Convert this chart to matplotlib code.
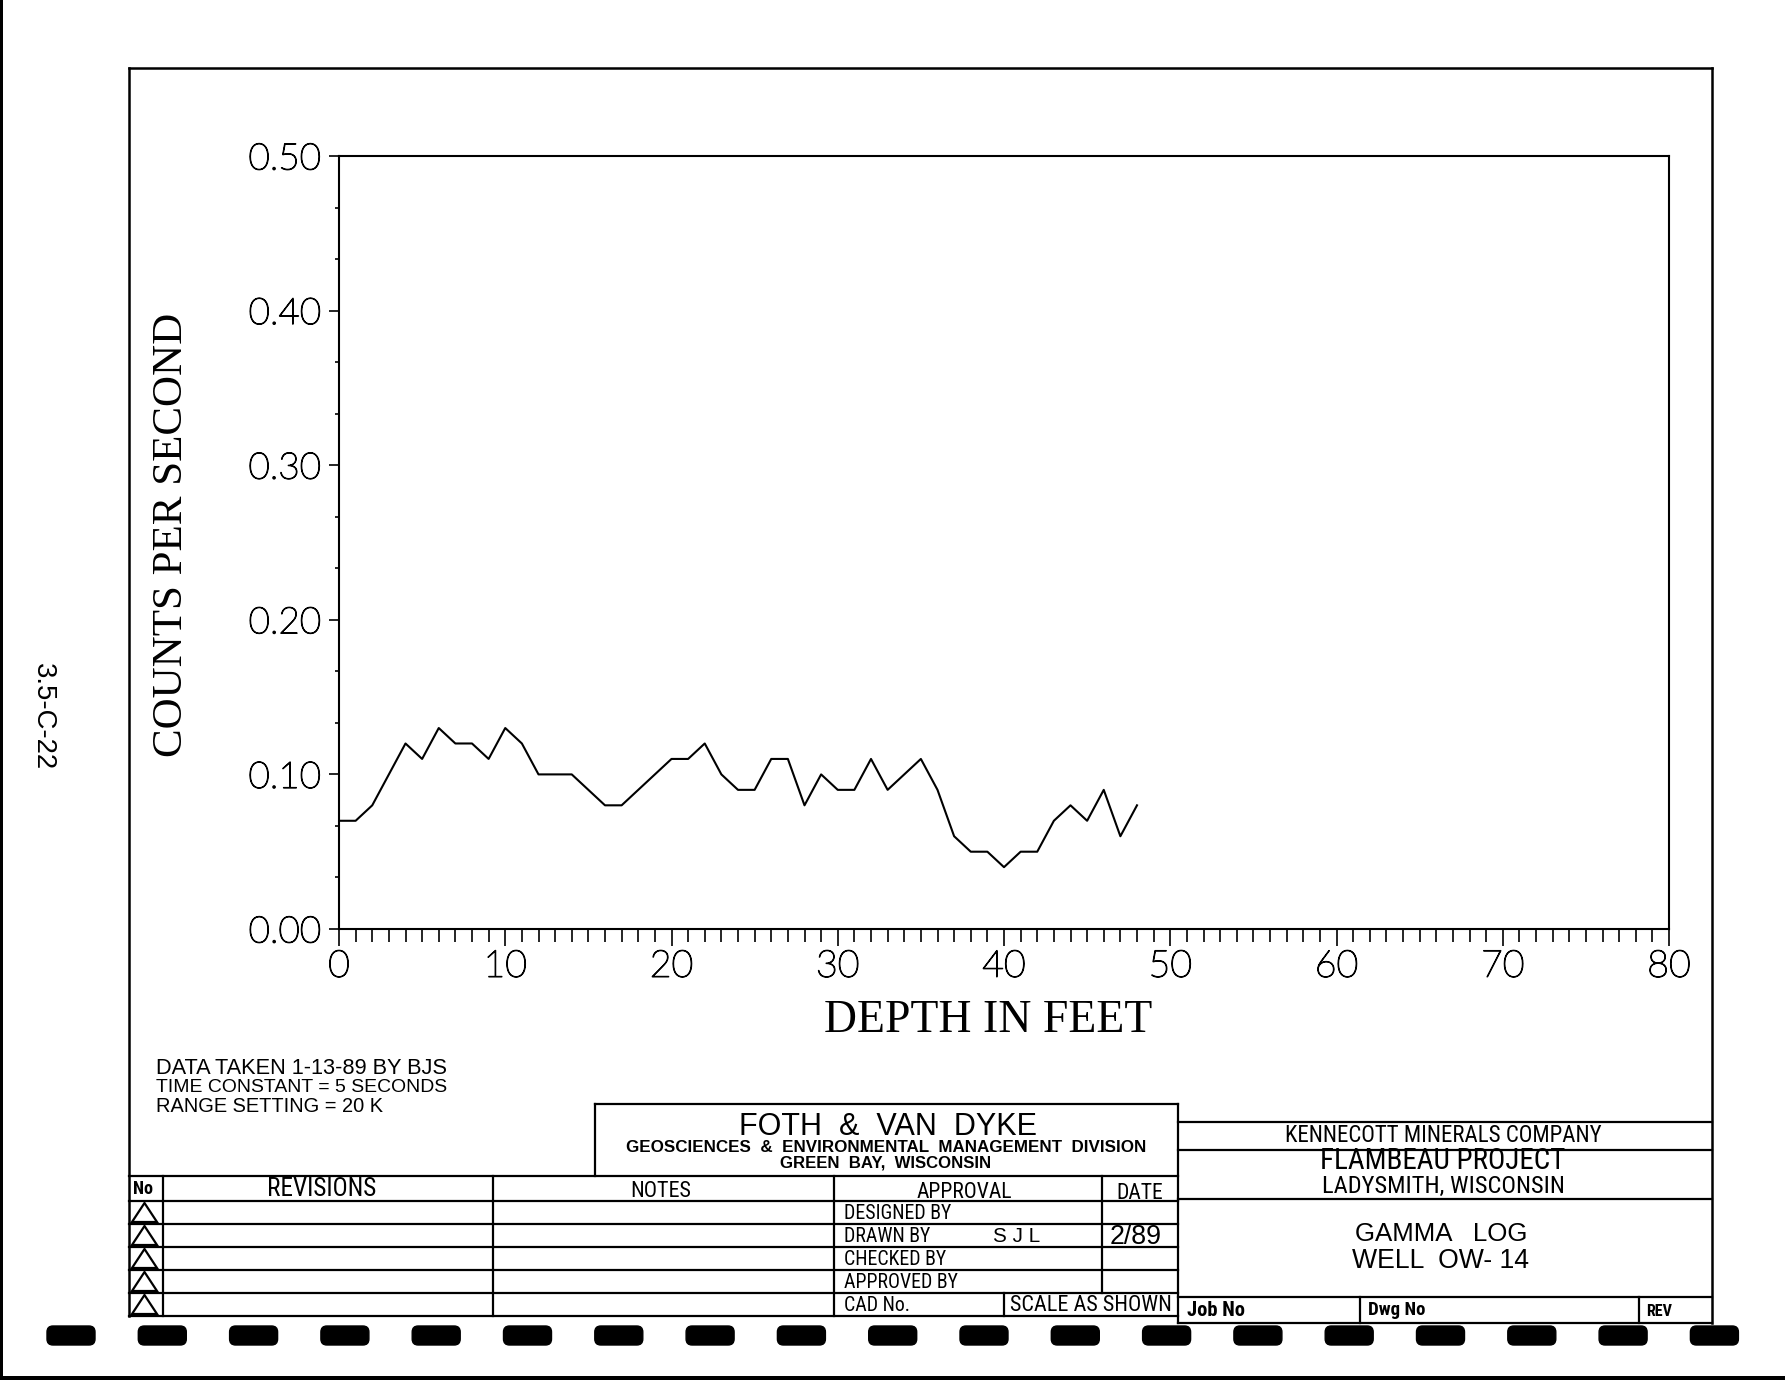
import matplotlib
matplotlib.use("Agg")
import matplotlib.pyplot as plt
import matplotlib.patheffects as pe
from matplotlib import font_manager
from matplotlib.patches import FancyBboxPatch, Polygon, Rectangle
import numpy as np

# gamma log, well OW-14
depth_ft = list(range(49))
counts_per_sec = [0.07, 0.07, 0.08, 0.10, 0.12, 0.11, 0.13, 0.12, 0.12, 0.11,
                  0.13, 0.12, 0.10, 0.10, 0.10, 0.09, 0.08, 0.08, 0.09, 0.10,
                  0.11, 0.11, 0.12, 0.10, 0.09, 0.09, 0.11, 0.11, 0.08, 0.10,
                  0.09, 0.09, 0.11, 0.09, 0.10, 0.11, 0.09, 0.06, 0.05, 0.05,
                  0.04, 0.05, 0.05, 0.07, 0.08, 0.07, 0.09, 0.06, 0.08]

x_ticks = [0, 10, 20, 30, 40, 50, 60, 70, 80]
y_ticks = [0.0, 0.1, 0.2, 0.3, 0.4, 0.5]
y_labels = ["0.00", "0.10", "0.20", "0.30", "0.40", "0.50"]

notes = ["DATA TAKEN 1-13-89 BY BJS",
         "TIME CONSTANT = 5 SECONDS",
         "RANGE SETTING = 20 K"]

installed = {f.name for f in font_manager.fontManager.ttflist}


def pick(*names):
    for n in names:
        if n in installed:
            return n
    return "DejaVu Sans"


THIN = pick("Lato", "Open Sans", "Roboto")
SERIF = pick("Liberation Serif", "DejaVu Serif")
SANS = pick("Liberation Sans", "DejaVu Sans")
NARROW = pick("Liberation Sans Narrow", "Roboto Condensed", "Liberation Sans")

W, H = 1785, 1380
fig = plt.figure(figsize=(W / 100, H / 100), dpi=100, facecolor="white")
ov = fig.add_axes([0, 0, 1, 1])
ov.set_xlim(0, W)
ov.set_ylim(H, 0)
ov.axis("off")
renderer = fig.canvas.get_renderer()


def put(x, y, s, width=None, size=12, family=SANS, ha="center", va="center",
        rot=0, weight="normal"):
    t = ov.text(x, y, s, fontsize=size, family=family, ha=ha, va=va,
                rotation=rot, fontweight=weight)
    if width:
        bb = t.get_window_extent(renderer)
        w = bb.height if rot else bb.width
        t.set_fontsize(size * width / w)
    return t


def hl(y, x1, x2, lw=1.6):
    ov.plot([x1, x2], [y, y], color="black", lw=lw, solid_capstyle="projecting")


def vl(x, y1, y2, lw=1.6):
    ov.plot([x, x], [y1, y2], color="black", lw=lw, solid_capstyle="projecting")


# ---- sheet border ----
BL, BR, BT = 129, 1712, 68
hl(BT, BL, BR, 1.8)
vl(BL, BT, 1316, 1.8)
vl(BR, BT, 1323, 1.8)

# ---- chart ----
L, R, T, B = 339, 1669, 156, 929
ax = fig.add_axes([L / W, 1 - B / H, (R - L) / W, (B - T) / H])
ax.plot(depth_ft, counts_per_sec, color="black", lw=1.5)
ax.set_xlim(0, 80)
ax.set_ylim(0, 0.5)
ax.set_xticks(x_ticks)
xl = ax.set_xticklabels([str(v) for v in x_ticks], fontfamily=THIN,
                        fontweight="light", fontsize=27)
ax.set_xticks(np.arange(0, 81, 1), minor=True)
ax.set_yticks(y_ticks)
yl = ax.set_yticklabels(y_labels, fontfamily=THIN, fontweight="light",
                        fontsize=26.5)
ax.set_yticks(np.arange(0, 0.5, 0.1 / 3), minor=True)
for lab in list(xl) + list(yl):
    lab.set_path_effects([pe.withStroke(linewidth=0.9, foreground="black")])
ax.tick_params(axis="x", which="major", length=12, width=1.2, pad=3)
ax.tick_params(axis="x", which="minor", length=9, width=1.2)
ax.tick_params(axis="y", which="major", length=7, width=1.2, pad=6)
ax.tick_params(axis="y", which="minor", length=3, width=1.2)
for sp in ax.spines.values():
    sp.set_linewidth(1.5)

put(988, 1021, "DEPTH IN FEET", width=328, size=30, family=SERIF)
put(172, 535, "COUNTS PER SECOND", width=444, size=30, family=SERIF, rot=90)
put(43, 717, "3.5-C-22", width=107, size=12, family=SANS, rot=-90)

for i, line in enumerate(notes):
    put(156, [1068, 1087, 1106][i], line, width=[290, 289, 227][i], size=13,
        ha="left")

# ---- title block: firm box ----
hl(1104, 595, 1178)
vl(595, 1104, 1176)
vl(1178, 1104, 1323)
put(888, 1127, "FOTH  &  VAN  DYKE", width=298, size=20)
put(886, 1148, "GEOSCIENCES  &  ENVIRONMENTAL  MANAGEMENT  DIVISION", width=523,
    size=9, weight="bold")
put(886, 1163, "GREEN  BAY,  WISCONSIN", width=213, size=9, weight="bold")

# ---- revisions / notes / approval table ----
rows = [1176, 1201, 1224, 1247, 1270, 1293, 1316]
for y in rows:
    hl(y, BL, 1178)
vl(163, rows[0], rows[-1])
vl(493, rows[0], rows[-1])
vl(834, rows[0], rows[-1])
vl(1102, rows[0], rows[-2])
vl(1004, rows[-2], rows[-1])
for top, bot in zip(rows[1:-1], rows[2:]):
    ov.add_patch(Polygon([[132, bot - 2], [157, bot - 2], [144.5, top + 2]],
                         closed=True, fill=False, ec="black", lw=1.6))

hdr = (rows[0] + rows[1]) / 2 + 1
put(143, hdr, "No", width=20, size=14, family=NARROW, weight="bold")
put(322, hdr, "REVISIONS", width=110, size=16, family=NARROW)
put(661, hdr + 2, "NOTES", width=61, size=16, family=NARROW)
put(964, hdr + 3, "APPROVAL", width=96, size=16, family=NARROW)
put(1140, hdr + 4, "DATE", width=47, size=16, family=NARROW)
approvals = ["DESIGNED BY", "DRAWN BY", "CHECKED BY", "APPROVED BY", "CAD No."]
sz = put(844, (rows[1] + rows[2]) / 2 + 1, approvals[0], width=107, size=13,
         family=NARROW, ha="left").get_fontsize()
for i, s in enumerate(approvals[1:], start=1):
    put(844, (rows[i + 1] + rows[i + 2]) / 2 + 1, s, size=sz,
        family=NARROW, ha="left")
put(1017, (rows[2] + rows[3]) / 2 + 1, "S J L", width=47, size=13)
put(1136, (rows[2] + rows[3]) / 2 + 1, "2/89", width=52, size=13)
put(1091, (rows[5] + rows[6]) / 2 + 1, "SCALE AS SHOWN", width=161, size=13,
    family=NARROW)

# ---- title block: client box ----
hl(1122, 1178, BR)
hl(1150, 1178, BR)
hl(1199, 1178, BR)
hl(1297, 1178, BR)
hl(1323, 1178, BR)
vl(1360, 1297, 1323)
vl(1639, 1297, 1323)
put(1443, 1136, "KENNECOTT MINERALS COMPANY", width=318, size=16, family=NARROW)
put(1443, 1161, "FLAMBEAU PROJECT", width=245, size=20, family=NARROW)
put(1443, 1186, "LADYSMITH, WISCONSIN", width=242, size=16, family=NARROW)
put(1441, 1234, "GAMMA   LOG", width=173, size=16)
put(1440, 1261, "WELL  OW- 14", width=178, size=16)
put(1187, 1310, "Job No", width=58, size=12, family=NARROW, ha="left",
    weight="bold")
put(1368, 1310, "Dwg No", width=57, size=12, family=NARROW, ha="left",
    weight="bold")
put(1646, 1312, "REV", width=26, size=10, family=NARROW, ha="left",
    weight="bold")

# ---- punched strip along the bottom edge, scanner edges ----
for k in range(19):
    cx = 71 + k * 91.3
    ov.add_patch(FancyBboxPatch((cx - 24, 1326), 48, 19,
                                boxstyle="round,pad=0,rounding_size=6",
                                fc="black", ec="black"))
ov.add_patch(Rectangle((0, 0), 3, H, fc="black", ec="none"))
ov.add_patch(Rectangle((0, H - 4), W, 4, fc="black", ec="none"))

fig.savefig("out.png", dpi=100, facecolor="white")
